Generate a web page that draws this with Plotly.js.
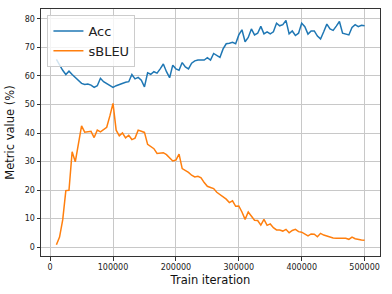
<!DOCTYPE html>
<html>
<head>
<meta charset="utf-8">
<script src="https://cdn.plot.ly/plotly-3.0.1.min.js"></script>
<style>html,body{margin:0;padding:0;background:#fff;}#chart{width:392px;height:294px;}</style>
</head>
<body>
<div id="chart"></div>
<script>
const iterations = [10000,15000,20000,25000,30000,35000,40000,45000,50000,55000,
  60000,65000,70000,75000,80000,85000,90000,95000,100000,105000,
  110000,115000,120000,125000,130000,135000,140000,145000,150000,155000,
  160000,165000,170000,175000,180000,185000,190000,195000,200000,205000,
  210000,215000,220000,225000,230000,235000,240000,245000,250000,255000,
  260000,265000,270000,275000,280000,285000,290000,295000,300000,305000,
  310000,315000,320000,325000,330000,335000,340000,345000,350000,355000,
  360000,365000,370000,375000,380000,385000,390000,395000,400000,405000,
  410000,415000,420000,425000,430000,435000,440000,445000,450000,455000,
  460000,465000,470000,475000,480000,485000,490000,495000,500000];

const acc = [65.8,63.8,62.0,60.5,61.7,60.5,59.5,58.3,57.4,57.0,
  57.2,56.8,56.0,56.6,59.2,58.0,57.4,56.8,56.0,56.6,
  57.0,57.6,57.8,58.0,60.5,59.0,59.5,58.5,56.2,61.1,
  60.6,61.5,61.0,62.5,64.2,61.5,59.4,63.8,62.5,62.0,
  64.7,63.2,62.5,64.5,65.3,65.6,65.6,65.6,66.4,65.6,
  67.9,67.2,66.5,69.5,71.3,71.5,71.8,71.3,74.4,76.2,
  72.0,73.5,76.5,74.4,75.0,77.4,74.8,75.5,74.8,75.5,
  78.5,77.6,78.0,79.5,74.8,75.8,74.2,75.0,78.5,77.3,
  74.7,75.8,75.8,74.0,73.0,75.5,78.2,76.5,76.0,77.5,
  79.1,75.0,74.6,74.4,77.0,78.0,77.3,77.8,77.6];

const sbleu = [0.8,3.5,9.5,19.8,19.9,33.4,29.9,36.0,42.5,40.3,
  40.5,40.6,38.4,41.0,40.4,41.2,42.0,46.0,50.4,41.0,
  39.0,40.0,38.3,39.2,37.7,38.2,41.0,40.6,40.2,36.0,
  35.2,34.5,32.8,32.9,33.1,32.4,31.2,30.2,30.5,32.6,
  27.5,26.9,26.2,25.2,24.6,24.8,24.3,22.6,21.3,20.9,
  20.5,19.2,18.4,17.4,16.8,15.6,16.2,14.3,14.4,12.3,
  9.7,12.3,10.9,9.4,9.3,7.7,9.7,7.6,8.1,6.8,
  6.0,6.0,5.6,6.2,5.0,5.8,6.2,5.4,5.2,4.6,
  3.9,4.6,4.5,3.6,4.8,4.2,3.8,3.4,3.2,3.1,
  3.1,3.1,3.1,2.7,3.5,2.9,2.6,2.5,2.4];

const seriesNames = ['Acc', 'sBLEU'];
const xTitle = 'Train iteration';
const yTitle = 'Metric value (%)';

const font = 'DejaVu Sans, sans-serif';
const traces = [
  {x: iterations, y: acc, name: seriesNames[0], mode: 'lines', type: 'scatter',
   line: {color: '#1f77b4', width: 1.5}},
  {x: iterations, y: sbleu, name: seriesNames[1], mode: 'lines', type: 'scatter',
   line: {color: '#ff7f0e', width: 1.5}}
];

const axisCommon = {
  showgrid: true, gridcolor: '#c8c8c8', gridwidth: 1,
  zeroline: false, showline: true, mirror: true, linecolor: '#333', linewidth: 1,
  ticks: 'outside', ticklen: 3.5, tickwidth: 1, tickcolor: '#333',
  tickfont: {family: font, size: 8, color: '#222'}
};

const layout = {
  width: 392, height: 294,
  margin: {l: 41, r: 12, t: 9, b: 38},
  paper_bgcolor: '#fff', plot_bgcolor: '#fff',
  font: {family: font, color: '#222'},
  showlegend: true,
  legend: {x: 0.019, y: 0.976, xanchor: 'left', yanchor: 'top',
    bgcolor: 'rgba(255,255,255,0.8)', bordercolor: '#cccccc', borderwidth: 1,
    font: {family: font, size: 13, color: '#222'}, itemwidth: 30, tracegroupgap: 0},
  xaxis: Object.assign({}, axisCommon, {
    range: [-14500, 524500], tickmode: 'linear', tick0: 0, dtick: 100000, tickformat: 'd',
    title: {text: xTitle, font: {family: font, size: 11.5, color: '#111'}, standoff: 4}
  }),
  yaxis: Object.assign({}, axisCommon, {
    range: [-3.15, 83.5], tickmode: 'linear', tick0: 0, dtick: 10,
    title: {text: yTitle, font: {family: font, size: 11.5, color: '#111'}, standoff: 7}
  })
};

Plotly.newPlot('chart', traces, layout, {staticPlot: true, displayModeBar: false});
</script>
</body>
</html>
